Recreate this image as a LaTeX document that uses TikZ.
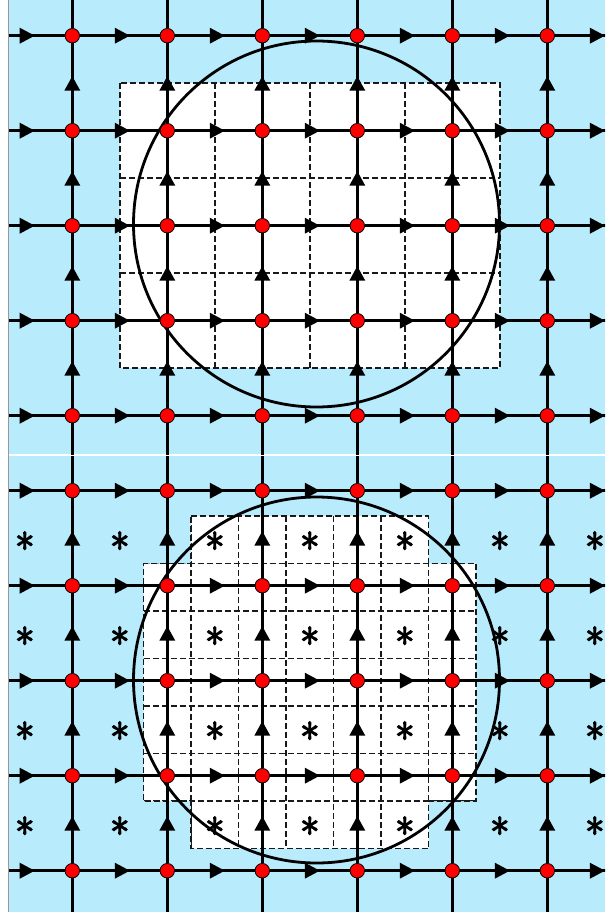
\documentclass[tikz,border=0pt]{standalone}
\usepackage{fontspec}
\newfontfamily\starfont[FakeBold=4]{Latin Modern Roman}
\usetikzlibrary{decorations.markings}
\definecolor{skyfill}{RGB}{184,235,252}

\tikzset{
  dot/.style={circle, draw=black, line width=0.8pt, fill=red, inner sep=0pt, minimum size=14.5pt},
  ghost/.style={circle, inner sep=0pt, minimum size=14.5pt},
  hwire/.style={draw=black, line width=3pt, postaction={decorate},
    decoration={markings, mark=at position 0.5 with {\fill[black] (-5pt,-8pt) -- (10pt,0pt) -- (-5pt,8pt) -- cycle;}}},
  vwire/.style={draw=black, line width=3pt, postaction={decorate},
    decoration={markings, mark=at position 0.5 with {\fill[black] (-7.5pt,-8pt) -- (7pt,0pt) -- (-7.5pt,8pt) -- cycle;}}},
  celledge/.style={draw=black!90, line width=1.6pt, dash pattern=on 6pt off 3pt},
  star/.style={inner sep=0pt, font=\starfont\fontsize{40}{40}\selectfont},
  ring/.style={line width=2.8pt}
}

% lattice of nodes and arrowed edges: #1 name prefix, #2 y of ghost row 0
\newcommand{\drawlattice}[2]{%
  \foreach \c in {0,...,7}
    \foreach \r in {0,...,6} {
      \pgfmathtruncatemacro\inside{and(and(\c>0,\c<7),and(\r>0,\r<6))}
      \ifnum\inside=1
        \node[dot] (#1-\c-\r) at (-22.7+95*\c, #2+95*\r) {};
      \else
        \node[ghost] (#1-\c-\r) at (-22.7+95*\c, #2+95*\r) {};
      \fi
    }
  % horizontal edges, pointing right
  \foreach \r in {1,...,5}
    \foreach \c in {0,...,6} {
      \pgfmathtruncatemacro\nxt{\c+1}
      \path[hwire] (#1-\c-\r) -- (#1-\nxt-\r);
    }
  % vertical edges, pointing up
  \foreach \c in {1,...,6}
    \foreach \r in {0,...,5} {
      \pgfmathtruncatemacro\nxt{\r+1}
      \path[vwire] (#1-\c-\nxt) -- (#1-\c-\r);
    }
}

\begin{document}
\begin{tikzpicture}[x=1pt, y=-1pt]
  \useasboundingbox (0,0) rectangle (605,912);
  \fill[white] (0,0) rectangle (605,912);

  % Top panel
  \begin{scope}
    \clip (8,0) rectangle (605,454);
    \fill[skyfill] (8,0) rectangle (605,454);
    \fill[white] (119.8,83.2) rectangle (499.8,368.2);
    \foreach \x in {214.8,309.8,404.8}
      \draw[celledge] (\x,83.2) -- (\x,368.2);
    \foreach \y in {178.2,273.2}
      \draw[celledge] (119.8,\y) -- (499.8,\y);
    \draw[celledge] (119.8,83.2) rectangle (499.8,368.2);
    \draw[ring] (316.5,224) circle[radius=183];
    \drawlattice{t}{-59.3}
  \end{scope}

  % Bottom panel
  \begin{scope}
    \clip (8,456) rectangle (605,912);
    \fill[skyfill] (8,456) rectangle (605,912);
    \def\region{(191.05,516) -- (428.55,516) -- (428.55,563.5) -- (476.05,563.5)
      -- (476.05,801) -- (428.55,801) -- (428.55,848.5) -- (191.05,848.5)
      -- (191.05,801) -- (143.55,801) -- (143.55,563.5) -- (191.05,563.5) -- cycle}
    \fill[white] \region;
    \begin{scope}
      \clip \region;
      \foreach \k in {1,...,6} {
        \draw[celledge] (143.55+47.5*\k,516) -- (143.55+47.5*\k,848.5);
        \draw[celledge] (143.55,516+47.5*\k) -- (476.05,516+47.5*\k);
      }
    \end{scope}
    \draw[celledge] \region;
    % asterisks at cell centres
    \foreach \i in {0,...,6}
      \foreach \j in {0,...,3}
        \node[star] (s-\i-\j) at (24.8+95*\i, 547+95*\j) {*};
    \draw[ring] (316.5,680) circle[radius=183];
    \drawlattice{b}{395.7}
  \end{scope}

  % left border
  \draw[black!40, line width=0.6pt] (8,0) -- (8,912);
\end{tikzpicture}
\end{document}
